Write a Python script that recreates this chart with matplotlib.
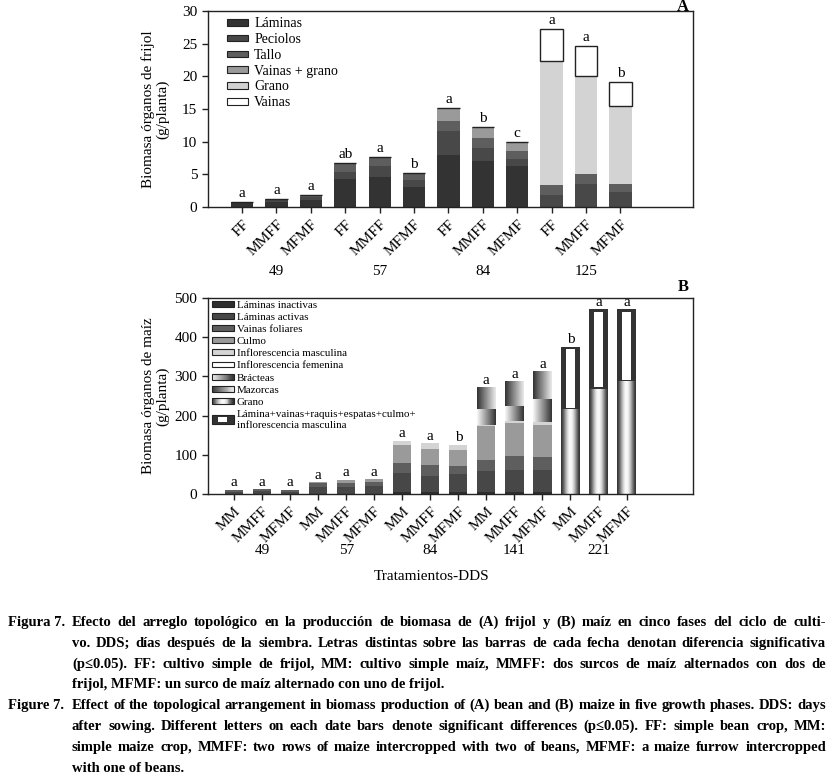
#!/usr/bin/env python

import numpy as np
import matplotlib
matplotlib.use('Agg')
import matplotlib.pyplot as plt
from matplotlib.patches import Patch, Rectangle
from matplotlib.legend_handler import HandlerBase

plt.rcParams['font.family'] = ['Liberation Serif', 'DejaVu Serif']

# ---- Panel A: frijol (g/planta) ----
dds_a = ['49', '57', '84', '125']
trat_a = ['FF', 'MMFF', 'MFMF']
laminas_a = [0.8, 0.7, 1.1, 4.3, 4.6, 3.1, 8.0, 7.1, 6.2, 0.0, 0.0, 0.0]
peciolos_a = [0.0, 0.3, 0.4, 1.1, 1.7, 1.1, 3.7, 2.0, 1.2, 1.8, 3.5, 2.3]
tallo_a = [0.0, 0.25, 0.4, 1.4, 1.4, 1.0, 1.4, 1.4, 1.1, 1.6, 1.5, 1.2]
vainas_grano_a = [0, 0, 0, 0, 0, 0, 2.0, 1.8, 1.5, 0, 0, 0]
grano_a = [0, 0, 0, 0, 0, 0, 0, 0, 0, 19.0, 15.0, 12.0]
vainas_a = [0, 0, 0, 0, 0, 0, 0, 0, 0, 4.9, 4.6, 3.6]
letras_a = ['a', 'a', 'a', 'ab', 'a', 'b', 'a', 'b', 'c', 'a', 'a', 'b']

# ---- Panel B: maiz (g/planta) ----
dds_b = ['49', '57', '84', '141', '221']
trat_b = ['MM', 'MMFF', 'MFMF']
inactivas_b = [0, 0, 0, 0, 0, 0, 4, 4, 4, 4, 4, 4, 0, 0, 0]
activas_b = [6, 7.5, 6, 17, 18.5, 20, 50, 41.5, 46.5, 54, 56.6, 56.6, 0, 0, 0]
vainas_fol_b = [4, 5, 4, 10, 10, 11, 24, 27.5, 20, 28, 35.4, 32.8, 0, 0, 0]
culmo_b = [0, 0, 0, 3.3, 7, 7, 48, 43, 43, 86.6, 85, 83.4, 0, 0, 0]
infl_masc_b = [0, 0, 0, 0, 0, 0, 10, 13, 12.5, 4.4, 6, 5.9, 0, 0, 0]
infl_fem_b = [0, 0, 0, 0, 0, 0, 0, 0, 0, 0, 0, 0, 0, 0, 0]
bracteas_b = [0, 0, 0, 0, 0, 0, 0, 0, 0, 40, 38.6, 58.9, 0, 0, 0]
mazorcas_b = [0, 0, 0, 0, 0, 0, 0, 0, 0, 54, 62.4, 71.4, 0, 0, 0]
grano_b = [0, 0, 0, 0, 0, 0, 0, 0, 0, 0, 0, 0, 216, 269, 288]
otros_b = [0, 0, 0, 0, 0, 0, 0, 0, 0, 0, 0, 0, 160, 202, 183]
letras_b = ['a', 'a', 'a', 'a', 'a', 'a', 'a', 'a', 'b', 'a', 'a', 'a', 'b', 'a', 'a']

caption = [
    ('Figura 7.', [
        'Efecto del arreglo topológico en la producción de biomasa de (A) frijol y (B) maíz en cinco fases del ciclo de culti-',
        'vo. DDS; días después de la siembra. Letras distintas sobre las barras de cada fecha denotan diferencia significativa',
        '(p≤0.05). FF: cultivo simple de frijol, MM: cultivo simple maíz, MMFF: dos surcos de maíz alternados con dos de',
        'frijol, MFMF: un surco de maíz alternado con uno de frijol.']),
    ('Figure 7.', [
        'Effect of the topological arrangement in biomass production of (A) bean and (B) maize in five growth phases. DDS: days',
        'after sowing. Different letters on each date bars denote significant differences (p≤0.05). FF: simple bean crop, MM:',
        'simple maize crop, MMFF: two rows of maize intercropped with two of beans, MFMF: a maize furrow intercropped',
        'with one of beans.']),
]

EDGE = '#222222'
W = 0.65
FIG_W, FIG_H = 835, 774

# horizontal grey profiles for the gradient fills
prof_bracteas = np.linspace(0.97, 0.2, 64)
prof_mazorcas = np.linspace(0.2, 0.92, 64)
prof_grano = 0.2 + 0.78 * np.sin(np.linspace(0, np.pi, 64)) ** 1.5


class GradientHandler(HandlerBase):
    def __init__(self, profile, n=24):
        super().__init__()
        self.profile = np.interp(np.linspace(0, 1, n), np.linspace(0, 1, len(profile)), profile)

    def create_artists(self, legend, orig_handle, xdescent, ydescent,
                       width, height, fontsize, trans):
        arts = []
        n = len(self.profile)
        for i, v in enumerate(self.profile):
            arts.append(Rectangle((-xdescent + i * width / n, -ydescent), width / n, height,
                                  facecolor=(v, v, v), edgecolor='none', transform=trans))
        arts.append(Rectangle((-xdescent, -ydescent), width, height, fill=False,
                              edgecolor=EDGE, lw=0.8, transform=trans))
        return arts


class FrameHandler(HandlerBase):
    def create_artists(self, legend, orig_handle, xdescent, ydescent,
                       width, height, fontsize, trans):
        h = height * 1.5
        y0 = -ydescent - (h - height) / 2
        outer = Rectangle((-xdescent, y0), width, h, facecolor='#333333',
                          edgecolor=EDGE, lw=0.8, transform=trans)
        inner = Rectangle((-xdescent + width * 0.3, y0 + h * 0.22), width * 0.4, h * 0.56,
                          facecolor='white', edgecolor='none', transform=trans)
        return [outer, inner]


def gradient_bar(ax, x, bottom, height, profile):
    if height <= 0:
        return
    ax.imshow(profile[np.newaxis, :], extent=(x - W / 2, x + W / 2, bottom, bottom + height),
              cmap='gray', vmin=0, vmax=1, aspect='auto', interpolation='bilinear', zorder=2)


def style_axes(ax):
    for s in ax.spines.values():
        s.set_linewidth(1.0)
        s.set_color(EDGE)
    ax.tick_params(axis='both', direction='out', length=4, width=1.0, color=EDGE,
                   labelsize=11, top=False, right=False)


def justified_text(fig, renderer, line, y, x0, x1, **kw):
    # place words one by one so that the line fills x0..x1 (pixels), y is the baseline
    words = line.split(' ')
    texts = [fig.text(0, 1 - y / FIG_H, w, ha='left', va='baseline', **kw) for w in words]
    widths = [t.get_window_extent(renderer).width for t in texts]
    gap = (x1 - x0 - sum(widths)) / max(len(words) - 1, 1)
    x = x0
    for t, w in zip(texts, widths):
        t.set_x(x / FIG_W)
        x += w + gap


def main():
    fig = plt.figure(figsize=(FIG_W / 100, FIG_H / 100), dpi=100)
    ax_a = fig.add_axes([207.7 / FIG_W, 1 - 207 / FIG_H, 485 / FIG_W, 196 / FIG_H])
    ax_b = fig.add_axes([207.7 / FIG_W, 1 - 494 / FIG_H, 485 / FIG_W, 196 / FIG_H])

    # ---------------- Panel A ----------------
    xa = np.arange(len(laminas_a))
    layers_a = [
        (laminas_a, '#333333', 'none', 'Láminas'),
        (peciolos_a, '#484848', 'none', 'Peciolos'),
        (tallo_a, '#5e5e5e', 'none', 'Tallo'),
        (vainas_grano_a, '#9a9a9a', 'none', 'Vainas + grano'),
        (grano_a, '#d3d3d3', 'none', 'Grano'),
        (vainas_a, 'white', EDGE, 'Vainas'),
    ]
    bottom = np.zeros(len(xa))
    handles_a = []
    for vals, col, ec, lab in layers_a:
        vals = np.array(vals, dtype=float)
        ax_a.bar(xa, vals, W, bottom=bottom, color=col, edgecolor=ec, linewidth=1.0)
        bottom += vals
        handles_a.append(Patch(facecolor=col, edgecolor=EDGE, linewidth=0.8, label=lab))
    for x, tot, let in zip(xa, bottom, letras_a):
        ax_a.text(x, tot + 0.3, let, ha='center', va='bottom', fontsize=11)

    ax_a.set_xlim(-1, 13.1)
    ax_a.set_ylim(0, 30)
    ax_a.set_yticks(np.arange(0, 31, 5))
    ax_a.set_xticks(xa)
    ax_a.set_xticklabels(trat_a * len(dds_a), rotation=45, ha='right',
                         rotation_mode='anchor', fontsize=10.5)
    style_axes(ax_a)
    for i, d in enumerate(dds_a):
        ax_a.text(xa[3 * i + 1], -0.33, d, transform=ax_a.get_xaxis_transform(),
                  ha='center', va='center', fontsize=11)
    ax_a.set_ylabel('Biomasa órganos de frijol\n(g/planta)', fontsize=11, linespacing=1.1)
    ax_a.yaxis.set_label_coords(-0.078, 0.5)
    ax_a.text(0.98, 1.022, 'A', transform=ax_a.transAxes, ha='center', va='center',
              fontsize=12, fontweight='bold')
    ax_a.legend(handles=handles_a, loc='upper left', bbox_to_anchor=(0.04, 0.968),
                frameon=False, fontsize=10, handlelength=1.5, handleheight=0.36,
                handletextpad=0.45, labelspacing=0.2, borderpad=0, borderaxespad=0)

    # ---------------- Panel B ----------------
    xb = np.arange(len(activas_b))
    solid_b = [
        (inactivas_b, '#2e2e2e'),
        (activas_b, '#474747'),
        (vainas_fol_b, '#5e5e5e'),
        (culmo_b, '#9a9a9a'),
        (infl_masc_b, '#d4d4d4'),
        (infl_fem_b, 'white'),
    ]
    bottom = np.zeros(len(xb))
    for vals, col in solid_b:
        vals = np.array(vals, dtype=float)
        ax_b.bar(xb, vals, W, bottom=bottom, color=col, edgecolor='none')
        bottom += vals
    for vals, prof in [(bracteas_b, prof_bracteas), (mazorcas_b, prof_mazorcas),
                       (grano_b, prof_grano)]:
        for x, b, v in zip(xb, bottom, vals):
            gradient_bar(ax_b, x, b, v, prof)
        bottom += np.array(vals, dtype=float)
    otros = np.array(otros_b, dtype=float)
    ax_b.bar(xb, otros, W, bottom=bottom, color='#333333', edgecolor='none', zorder=2)
    inset = 0.012 * 500
    has = otros > 0
    ax_b.bar(xb[has], otros[has] - 1.6 * inset, W * 0.5, bottom=bottom[has] + 0.5 * inset,
             color='white', edgecolor='none', zorder=2)
    bottom += otros
    for x, tot, let in zip(xb, bottom, letras_b):
        ax_b.text(x, tot + 1.5, let, ha='center', va='bottom', fontsize=11)

    ax_b.set_xlim(-0.94, 16.36)
    ax_b.set_ylim(0, 500)
    ax_b.set_yticks(np.arange(0, 501, 100))
    ax_b.set_xticks(xb)
    ax_b.set_xticklabels(trat_b * len(dds_b), rotation=45, ha='right',
                         rotation_mode='anchor', fontsize=10.5)
    style_axes(ax_b)
    for i, d in enumerate(dds_b):
        ax_b.text(xb[3 * i + 1], -0.29, d, transform=ax_b.get_xaxis_transform(),
                  ha='center', va='center', fontsize=11)
    ax_b.set_ylabel('Biomasa órganos de maíz\n(g/planta)', fontsize=11, linespacing=1.1)
    ax_b.yaxis.set_label_coords(-0.078, 0.5)
    ax_b.text(0.98, 1.056, 'B', transform=ax_b.transAxes, ha='center', va='center',
              fontsize=12, fontweight='bold')

    h_solid = [Patch(facecolor=c, edgecolor=EDGE, linewidth=0.8, label=l) for c, l in [
        ('#2e2e2e', 'Láminas inactivas'), ('#474747', 'Láminas activas'),
        ('#5e5e5e', 'Vainas foliares'), ('#9a9a9a', 'Culmo'),
        ('#d4d4d4', 'Inflorescencia masculina'), ('white', 'Inflorescencia femenina')]]
    h_brac = Patch(label='Brácteas')
    h_maz = Patch(label='Mazorcas')
    h_gra = Patch(label='Grano')
    h_otr = Patch(label='Lámina+vainas+raquis+espatas+culmo+\ninflorescencia masculina')
    hmap = {h_brac: GradientHandler(prof_bracteas), h_maz: GradientHandler(prof_mazorcas),
            h_gra: GradientHandler(prof_grano), h_otr: FrameHandler()}
    ax_b.legend(handles=h_solid + [h_brac, h_maz, h_gra, h_otr], handler_map=hmap,
                loc='upper left', bbox_to_anchor=(0.008, 0.987), frameon=False, fontsize=7.9,
                handlelength=2.05, handleheight=0.45, handletextpad=0.25,
                labelspacing=0.29, borderpad=0, borderaxespad=0)

    fig.text(432 / FIG_W, 1 - 577 / FIG_H, 'Tratamientos-DDS', ha='center', va='center',
             fontsize=11)

    # ---------------- caption ----------------
    renderer = fig.canvas.get_renderer()
    kw = dict(fontsize=10.5, fontweight='bold')
    y = 626
    for label, lines in caption:
        fig.text(8 / FIG_W, 1 - y / FIG_H, label, ha='left', va='baseline', **kw)
        for i, line in enumerate(lines):
            if i < len(lines) - 1:
                justified_text(fig, renderer, line, y, 72, 826, **kw)
            else:
                fig.text(72 / FIG_W, 1 - y / FIG_H, line, ha='left', va='baseline', **kw)
            y += 20.8

    fig.savefig('out.png', dpi=100)


if __name__ == '__main__':
    main()
